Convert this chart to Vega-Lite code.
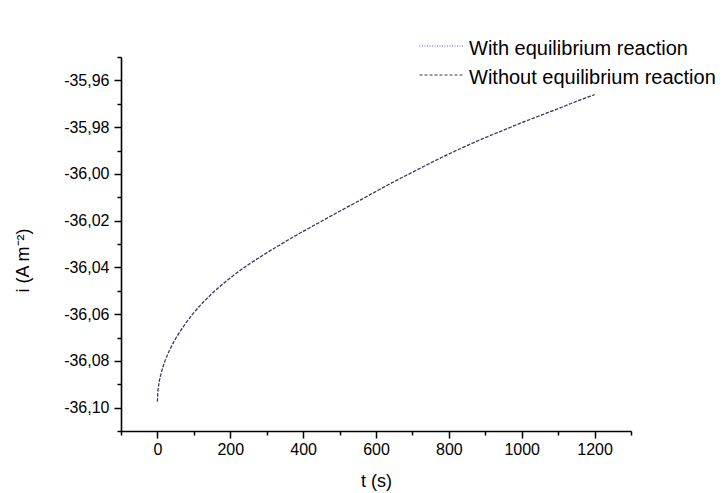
{
  "$schema": "https://vega.github.io/schema/vega-lite/v6.json",
  "width": 510,
  "height": 374,
  "autosize": {"type": "none"},
  "padding": {"left": 121, "top": 57, "right": 92, "bottom": 62},
  "background": "white",
  "config": {
    "view": {"stroke": null},
    "font": "Liberation Sans",
    "axis": {
      "domainColor": "black",
      "domainWidth": 1.6,
      "tickColor": "black",
      "tickWidth": 1.5,
      "labelColor": "black",
      "labelFont": "Liberation Sans",
      "labelFontSize": 16,
      "titleFont": "Liberation Sans",
      "titleFontSize": 18,
      "titleFontWeight": "normal",
      "titleColor": "black",
      "grid": false
    }
  },
  "data": {
    "values": [
      {"t": 0, "with": -36.0974, "without": -36.0974},
      {"t": 1, "with": -36.0936, "without": -36.0936},
      {"t": 2, "with": -36.0920, "without": -36.0920},
      {"t": 5, "with": -36.0889, "without": -36.0889},
      {"t": 10, "with": -36.0854, "without": -36.0854},
      {"t": 20, "with": -36.0804, "without": -36.0804},
      {"t": 35, "with": -36.0749, "without": -36.0749},
      {"t": 50, "with": -36.0705, "without": -36.0705},
      {"t": 75, "with": -36.0645, "without": -36.0645},
      {"t": 100, "with": -36.0594, "without": -36.0594},
      {"t": 150, "with": -36.0512, "without": -36.0512},
      {"t": 200, "with": -36.0445, "without": -36.0445},
      {"t": 250, "with": -36.0388, "without": -36.0388},
      {"t": 300, "with": -36.0338, "without": -36.0338},
      {"t": 350, "with": -36.0291, "without": -36.0291},
      {"t": 400, "with": -36.0246, "without": -36.0246},
      {"t": 450, "with": -36.0203, "without": -36.0203},
      {"t": 500, "with": -36.0160, "without": -36.0160},
      {"t": 550, "with": -36.0118, "without": -36.0118},
      {"t": 600, "with": -36.0075, "without": -36.0075},
      {"t": 650, "with": -36.0033, "without": -36.0033},
      {"t": 700, "with": -35.9993, "without": -35.9993},
      {"t": 750, "with": -35.9953, "without": -35.9953},
      {"t": 800, "with": -35.9915, "without": -35.9915},
      {"t": 850, "with": -35.9879, "without": -35.9879},
      {"t": 900, "with": -35.9845, "without": -35.9845},
      {"t": 950, "with": -35.9813, "without": -35.9813},
      {"t": 1000, "with": -35.9781, "without": -35.9781},
      {"t": 1050, "with": -35.9751, "without": -35.9751},
      {"t": 1100, "with": -35.9721, "without": -35.9721},
      {"t": 1150, "with": -35.9690, "without": -35.9690},
      {"t": 1200, "with": -35.9661, "without": -35.9661}
    ]
  },
  "transform": [
    {"fold": ["with", "without"], "as": ["key", "i"]},
    {"lookup": "key", "from": {"data": {"values": [{"key": "with", "series": "With equilibrium reaction"}, {"key": "without", "series": "Without equilibrium reaction"}]}, "key": "key", "fields": ["series"]}}
  ],
  "layer": [
    {
      "mark": {"type": "line", "strokeWidth": 1.2, "interpolate": "monotone"},
      "encoding": {
        "x": {
          "field": "t",
          "type": "quantitative",
          "scale": {"domain": [-100, 1300], "nice": false, "zero": false},
          "axis": {
            "title": "t (s)",
            "orient": "bottom",
            "values": [0, 200, 400, 600, 800, 1000, 1200],
            "format": "d",
            "tickSize": 7,
            "labelPadding": 3,
            "titleY": 55,
            "titleBaseline": "alphabetic"
          }
        },
        "y": {
          "field": "i",
          "type": "quantitative",
          "scale": {"domain": [-36.11, -35.95], "nice": false, "zero": false},
          "axis": {
            "title": "i (A m⁻²)",
            "orient": "left",
            "values": [-35.96, -35.98, -36.0, -36.02, -36.04, -36.06, -36.08, -36.1],
            "labelExpr": "replace(replace(format(datum.value, '.2f'), '.', ','), '\u2212', '-')",
            "tickSize": 7,
            "labelPadding": 5,
            "titleX": -89,
            "titleY": 203,
            "titleBaseline": "bottom",
            "titleAlign": "center"
          }
        },
        "color": {
          "field": "series",
          "type": "nominal",
          "scale": {"domain": ["With equilibrium reaction", "Without equilibrium reaction"], "range": ["#5a5aff", "#3a3a3a"]},
          "legend": {"title": null, "orient": "none", "legendX": 311, "legendY": -21, "padding": 0, "symbolType": "M-3,0H3", "symbolSize": 225, "symbolStrokeWidth": 1.2, "labelFontSize": 20, "labelFont": "Liberation Sans", "labelColor": "black", "labelOffset": 17, "rowPadding": 6, "labelLimit": 400, "encode": {"labels": {"update": {"dy": {"value": 3}}}}}
        },
        "strokeDash": {
          "field": "series",
          "type": "nominal",
          "scale": {"domain": ["With equilibrium reaction", "Without equilibrium reaction"], "range": [[1, 1.5], [3, 2]]},
          "legend": {"title": null, "orient": "none", "legendX": 311, "legendY": -21, "padding": 0, "symbolType": "M-3,0H3", "symbolSize": 225, "symbolStrokeWidth": 1.2, "labelFontSize": 20, "labelFont": "Liberation Sans", "labelColor": "black", "labelOffset": 17, "rowPadding": 6, "labelLimit": 400, "encode": {"labels": {"update": {"dy": {"value": 3}}}}}
        }
      }
    },
    {
      "mark": {"type": "line", "opacity": 0},
      "encoding": {
        "x": {
          "field": "t",
          "type": "quantitative",
          "axis": {"title": null, "orient": "bottom", "values": [-100, 100, 300, 500, 700, 900, 1100, 1300], "labels": false, "domain": false, "tickSize": 4}
        },
        "y": {
          "field": "i",
          "type": "quantitative",
          "axis": {"title": null, "orient": "left", "values": [-35.95, -35.97, -35.99, -36.01, -36.03, -36.05, -36.07, -36.09, -36.11], "labels": false, "domain": false, "tickSize": 4}
        },
        "detail": {"field": "series", "type": "nominal"}
      }
    }
  ],
  "resolve": {"axis": {"x": "independent", "y": "independent"}}
}
